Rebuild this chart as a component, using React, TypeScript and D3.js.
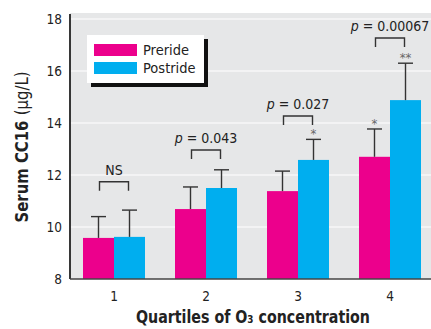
import React from "react";
import * as d3 from "d3";

const categories = ["1", "2", "3", "4"];
const preride = [9.58, 10.69, 11.38, 12.7];
const postride = [9.62, 11.5, 12.58, 14.88];
const prerideErr = [10.4, 11.54, 12.15, 13.77];
const postrideErr = [10.65, 12.2, 13.37, 16.3];
const yTicks = [8, 10, 12, 14, 16, 18];
const pLabels = ["NS", "p = 0.043", "p = 0.027", "p = 0.00067"];
const preStars = ["", "", "", "*"];
const postStars = ["", "", "*", "**"];
const bracketLevels = [11.74, 12.96, 14.27, 17.27];

const W = 431;
const H = 329;
const FONT = "'Liberation Sans Narrow', 'DejaVu Sans Condensed', 'Roboto', sans-serif";
const MAGENTA = "#EC008C";
const CYAN = "#00AEEF";

export default function App() {
  const plotLeft = 70;
  const plotRight = 431;
  const plotBottom = 279;
  const plotTop = 13;
  const y = d3.scaleLinear().domain([8, 18]).range([plotBottom, 19]);
  const x = d3
    .scaleBand<string>()
    .domain(categories)
    .range([68, 436])
    .paddingInner(0.326)
    .paddingOuter(0.163);
  const bw = x.bandwidth() / 2;
  const capW = 15;

  return (
    <svg width={W} height={H} style={{ position: "absolute", left: 0, top: 0 }} fontFamily={FONT}>
      <rect x={plotLeft} y={plotTop} width={plotRight - plotLeft} height={plotBottom - plotTop} fill="#E6E7E8" />
      {yTicks.slice(1).map((t) => (
        <line key={t} x1={plotLeft} x2={plotRight} y1={y(t)} y2={y(t)} stroke="#fff" strokeWidth={1.2} />
      ))}
      {categories.map((c, i) => {
        const x0 = x(c)!;
        const cPre = x0 + bw / 2;
        const cPost = x0 + bw * 1.5;
        const bTop = y(bracketLevels[i]);
        return (
          <g key={c}>
            <rect x={x0} y={y(preride[i])} width={bw} height={plotBottom - y(preride[i])} fill={MAGENTA} />
            <rect x={x0 + bw} y={y(postride[i])} width={bw} height={plotBottom - y(postride[i])} fill={CYAN} />
            <line x1={cPre} x2={cPre} y1={y(preride[i])} y2={y(prerideErr[i])} stroke="#333" strokeWidth={1.4} />
            <line x1={cPre - capW / 2} x2={cPre + capW / 2} y1={y(prerideErr[i])} y2={y(prerideErr[i])} stroke="#333" strokeWidth={1.4} />
            <line x1={cPost} x2={cPost} y1={y(postride[i])} y2={y(postrideErr[i])} stroke="#333" strokeWidth={1.4} />
            <line x1={cPost - capW / 2} x2={cPost + capW / 2} y1={y(postrideErr[i])} y2={y(postrideErr[i])} stroke="#333" strokeWidth={1.4} />
            {preStars[i] && (
              <text x={cPre} y={y(prerideErr[i]) - 1} textAnchor="middle" fontSize={13} fill="#666">{preStars[i]}</text>
            )}
            {postStars[i] && (
              <text x={cPost} y={y(postrideErr[i]) - 1} textAnchor="middle" fontSize={13} fill="#666">{postStars[i]}</text>
            )}
            <path
              d={`M${cPre + 1},${bTop + 9}V${bTop}H${cPost - 1}V${bTop + 9}`}
              fill="none"
              stroke="#333"
              strokeWidth={1.4}
            />
            <text x={(cPre + cPost) / 2} y={bTop - 7} textAnchor="middle" fontSize={14} fill="#222">
              {pLabels[i].startsWith("p") ? (
                <>
                  <tspan fontStyle="italic">p</tspan>
                  {pLabels[i].slice(1)}
                </>
              ) : (
                pLabels[i]
              )}
            </text>
            <text x={x0 + bw} y={301} textAnchor="middle" fontSize={13.5} fill="#222">{c}</text>
          </g>
        );
      })}
      <line x1={plotLeft} x2={plotLeft} y1={plotTop + 1} y2={plotBottom} stroke="#222" strokeWidth={1.8} />
      <line x1={plotLeft} x2={plotRight} y1={plotBottom} y2={plotBottom} stroke="#444" strokeWidth={1.6} />
      {yTicks.map((t) => (
        <text key={t} x={62} y={y(t) + 5} textAnchor="end" fontSize={13.5} fill="#222">{t}</text>
      ))}
      {/* legend */}
      <rect x={91} y={39} width={117} height={48} fill="#111" />
      <rect x={87} y={35} width={117} height={48} fill="#fff" />
      <rect x={94} y={44} width={43} height={12} fill={MAGENTA} />
      <rect x={94} y={62} width={43} height={12} fill={CYAN} />
      <text x={143} y={55} fontSize={14.5} fill="#222">Preride</text>
      <text x={143} y={73} fontSize={14.5} fill="#222">Postride</text>
      {/* axis titles */}
      <text
        transform={`translate(28,147) rotate(-90)`}
        textAnchor="middle"
        fontSize={17}
        fill="#222"
        textLength={151}
        lengthAdjust="spacingAndGlyphs"
      >
        <tspan fontWeight="bold">Serum CC16 </tspan>
        <tspan>(µg/L)</tspan>
      </text>
      <text
        x={253}
        y={323}
        textAnchor="middle"
        fontSize={18}
        fontWeight="bold"
        fill="#222"
        textLength={234}
        lengthAdjust="spacingAndGlyphs"
      >
        Quartiles of O₃ concentration
      </text>
    </svg>
  );
}
